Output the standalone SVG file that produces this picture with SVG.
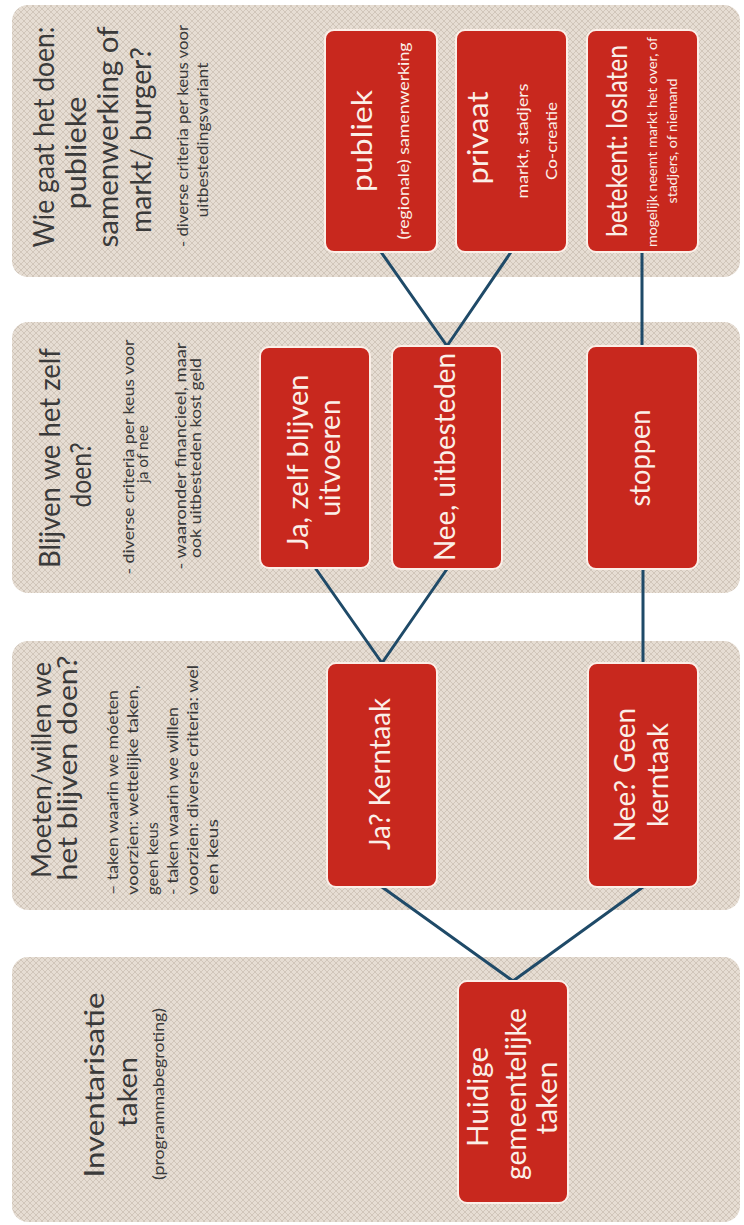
<svg xmlns="http://www.w3.org/2000/svg" width="744" height="1225" viewBox="0 0 744 1225">
  <defs>
    <pattern id="weave" width="6" height="6" patternUnits="userSpaceOnUse">
      <rect width="6" height="6" fill="#e6ddd3"/>
      <path d="M0 3 L3 0 L6 3 L3 6 Z" fill="none" stroke="#c8bcaf" stroke-width="0.7"/>
    </pattern>
  </defs>
  <style>
    .panel { fill: url(#weave); }
    .box { fill: #c8281e; stroke: #fbefe8; stroke-width: 2; }
    .conn { stroke: #1f4a68; stroke-width: 3; fill: none; stroke-linecap: round; }
    text { font-family: Lato, "Open Sans", "Liberation Sans", sans-serif; }
    .h { font-size: 28px; fill: #3a3a3a; text-anchor: middle; }
    .h26 { font-size: 26px; fill: #3a3a3a; text-anchor: middle; }
    .s { font-size: 16px; fill: #3a3a3a; text-anchor: middle; }
    .sl { font-size: 16px; fill: #3a3a3a; text-anchor: start; }
    .b { font-size: 28px; fill: #fbefe8; text-anchor: middle; }
    .bs { font-size: 16px; fill: #fbefe8; text-anchor: middle; }
    .bx { font-size: 14px; fill: #fbefe8; text-anchor: middle; }
  </style>
  <rect width="744" height="1225" fill="#ffffff"/>

  <!-- panels -->
  <g id="panel-wie">
    <rect class="panel" x="12" y="5" width="728" height="272" rx="16"/>
    <g transform="rotate(-90)">
      <text class="h" x="-137" y="54" textLength="221" lengthAdjust="spacingAndGlyphs">Wie gaat het doen:</text>
      <text class="h" x="-153" y="86" textLength="113" lengthAdjust="spacingAndGlyphs">publieke</text>
      <text class="h" x="-137" y="118" textLength="221" lengthAdjust="spacingAndGlyphs">samenwerking of</text>
      <text class="h" x="-140" y="151" textLength="186" lengthAdjust="spacingAndGlyphs">markt/ burger?</text>
      <text class="s" x="-136" y="188" textLength="222" lengthAdjust="spacingAndGlyphs">- diverse criteria per keus voor</text>
      <text class="s" x="-140" y="208" textLength="155" lengthAdjust="spacingAndGlyphs">uitbestedingsvariant</text>
    </g>
  </g>
  <g id="panel-blijven">
    <rect class="panel" x="12" y="322" width="728" height="271" rx="16"/>
    <g transform="rotate(-90)">
      <text class="h" x="-458" y="60" textLength="220" lengthAdjust="spacingAndGlyphs">Blijven we het zelf</text>
      <text class="h" x="-475" y="91" textLength="65" lengthAdjust="spacingAndGlyphs">doen?</text>
      <text class="s" x="-457" y="134" textLength="235" lengthAdjust="spacingAndGlyphs">- diverse criteria per keus voor</text>
      <text class="s" x="-454" y="148" textLength="58" lengthAdjust="spacingAndGlyphs">ja of nee</text>
      <text class="s" x="-456" y="186" textLength="227" lengthAdjust="spacingAndGlyphs">- waaronder financieel, maar</text>
      <text class="s" x="-458" y="201" textLength="200" lengthAdjust="spacingAndGlyphs">ook uitbesteden kost geld</text>
    </g>
  </g>
  <g id="panel-moeten">
    <rect class="panel" x="12" y="641" width="728" height="269" rx="16"/>
    <g transform="rotate(-90)">
      <text class="h26" x="-770" y="51" textLength="216" lengthAdjust="spacingAndGlyphs">Moeten/willen we</text>
      <text class="h26" x="-768" y="77" textLength="225" lengthAdjust="spacingAndGlyphs">het blijven doen?</text>
      <text class="sl" x="-895" y="118" textLength="205" lengthAdjust="spacingAndGlyphs">– taken waarin we móeten</text>
      <text class="sl" x="-895" y="138" textLength="210" lengthAdjust="spacingAndGlyphs">voorzien: wettelijke taken,</text>
      <text class="sl" x="-895" y="158" textLength="73" lengthAdjust="spacingAndGlyphs">geen keus</text>
      <text class="sl" x="-895" y="178" textLength="188" lengthAdjust="spacingAndGlyphs">-  taken waarin we willen</text>
      <text class="sl" x="-895" y="198" textLength="230" lengthAdjust="spacingAndGlyphs">voorzien: diverse criteria: wel</text>
      <text class="sl" x="-895" y="218" textLength="76" lengthAdjust="spacingAndGlyphs">een keus</text>
    </g>
  </g>
  <g id="panel-inventarisatie">
    <rect class="panel" x="12" y="957" width="728" height="265" rx="16"/>
    <g transform="rotate(-90)">
      <text class="h26" x="-1085" y="104" textLength="185" lengthAdjust="spacingAndGlyphs">Inventarisatie</text>
      <text class="h26" x="-1092" y="137" textLength="70" lengthAdjust="spacingAndGlyphs">taken</text>
      <text class="s" x="-1094" y="164" font-size="15" textLength="172" lengthAdjust="spacingAndGlyphs">(programmabegroting)</text>
    </g>
  </g>

  <!-- connectors -->
  <g id="connectors">
    <line class="conn" x1="513" y1="981" x2="382" y2="887"/>
    <line class="conn" x1="513" y1="981" x2="643" y2="887"/>
    <line class="conn" x1="382" y1="663" x2="316" y2="569"/>
    <line class="conn" x1="382" y1="663" x2="447" y2="569"/>
    <line class="conn" x1="643" y1="663" x2="643" y2="569"/>
    <line class="conn" x1="447" y1="346" x2="381" y2="252"/>
    <line class="conn" x1="447" y1="346" x2="511" y2="252"/>
    <line class="conn" x1="642" y1="346" x2="642" y2="252"/>
  </g>

  <!-- nodes -->
  <g id="node-huidige">
    <rect class="box" x="458" y="981" width="110" height="222" rx="9"/>
    <g transform="rotate(-90)">
      <text class="b" x="-1097" y="488" textLength="100" lengthAdjust="spacingAndGlyphs">Huidige</text>
      <text class="b" x="-1094" y="526" textLength="172" lengthAdjust="spacingAndGlyphs">gemeentelijke</text>
      <text class="b" x="-1098" y="557" textLength="73" lengthAdjust="spacingAndGlyphs">taken</text>
    </g>
  </g>
  <g id="node-ja-kerntaak">
    <rect class="box" x="327" y="663" width="110" height="224" rx="9"/>
    <g transform="rotate(-90)">
      <text class="b" x="-774" y="390" textLength="152" lengthAdjust="spacingAndGlyphs">Ja? Kerntaak</text>
    </g>
  </g>
  <g id="node-nee-kerntaak">
    <rect class="box" x="588" y="663" width="110" height="224" rx="9"/>
    <g transform="rotate(-90)">
      <text class="b" x="-775" y="635" textLength="134" lengthAdjust="spacingAndGlyphs">Nee? Geen</text>
      <text class="b" x="-775" y="668" textLength="104" lengthAdjust="spacingAndGlyphs">kerntaak</text>
    </g>
  </g>
  <g id="node-ja-zelf">
    <rect class="box" x="260" y="347" width="110" height="221" rx="9"/>
    <g transform="rotate(-90)">
      <text class="b" x="-462" y="308" textLength="175" lengthAdjust="spacingAndGlyphs">Ja, zelf blijven</text>
      <text class="b" x="-458" y="340" textLength="117" lengthAdjust="spacingAndGlyphs">uitvoeren</text>
    </g>
  </g>
  <g id="node-nee-uitbesteden">
    <rect class="box" x="392" y="346" width="110" height="223" rx="9"/>
    <g transform="rotate(-90)">
      <text class="b" x="-457" y="455" textLength="208" lengthAdjust="spacingAndGlyphs">Nee, uitbesteden</text>
    </g>
  </g>
  <g id="node-stoppen">
    <rect class="box" x="587" y="346" width="111" height="223" rx="9"/>
    <g transform="rotate(-90)">
      <text class="b" x="-458" y="650" textLength="97" lengthAdjust="spacingAndGlyphs">stoppen</text>
    </g>
  </g>
  <g id="node-publiek">
    <rect class="box" x="325" y="30" width="112" height="222" rx="9"/>
    <g transform="rotate(-90)">
      <text class="b" x="-141" y="372" textLength="102" lengthAdjust="spacingAndGlyphs">publiek</text>
      <text class="bs" x="-141" y="409" textLength="197" lengthAdjust="spacingAndGlyphs">(regionale) samenwerking</text>
    </g>
  </g>
  <g id="node-privaat">
    <rect class="box" x="456" y="30" width="111" height="222" rx="9"/>
    <g transform="rotate(-90)">
      <text class="b" x="-138" y="488" textLength="93" lengthAdjust="spacingAndGlyphs">privaat</text>
      <text class="bs" x="-141" y="528" textLength="115" lengthAdjust="spacingAndGlyphs">markt, stadjers</text>
      <text class="bs" x="-141" y="557" textLength="78" lengthAdjust="spacingAndGlyphs">Co-creatie</text>
    </g>
  </g>
  <g id="node-loslaten">
    <rect class="box" x="587" y="30" width="111" height="222" rx="9"/>
    <g transform="rotate(-90)">
      <text class="b" x="-141" y="627" textLength="192" lengthAdjust="spacingAndGlyphs">betekent: loslaten</text>
      <text class="bx" x="-142" y="657" textLength="210" lengthAdjust="spacingAndGlyphs">mogelijk neemt markt het over, of</text>
      <text class="bx" x="-141" y="677" textLength="125" lengthAdjust="spacingAndGlyphs">stadjers, of niemand</text>
    </g>
  </g>
</svg>
